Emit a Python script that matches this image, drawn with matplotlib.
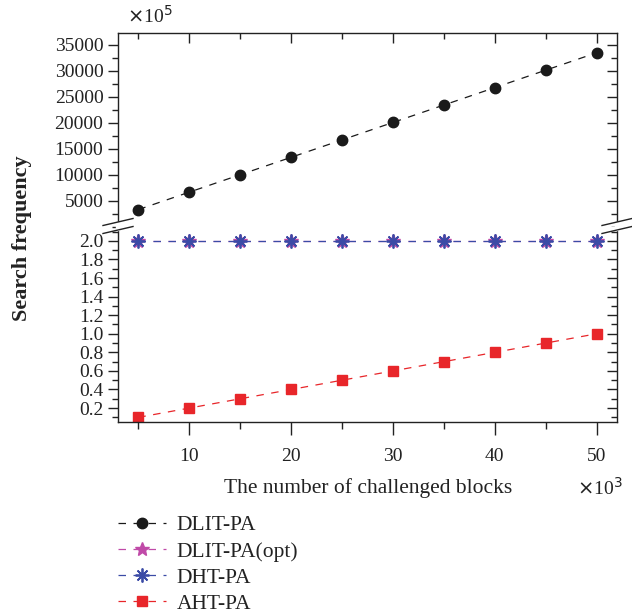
import matplotlib.pyplot as plt
import numpy as np
from matplotlib.ticker import MultipleLocator, FormatStrFormatter
from matplotlib.lines import Line2D

plt.rcParams['font.family'] = ['Liberation Serif', 'DejaVu Serif']

# data (x in units of 10^3 blocks)
blocks = [5, 10, 15, 20, 25, 30, 35, 40, 45, 50]
dlit = [3350, 6700, 10050, 13400, 16750, 20100, 23450, 26800, 30150, 33500]  # x10^5
dlit_opt = [2.0, 2.0, 2.0, 2.0, 2.0, 2.0, 2.0, 2.0, 2.0, 2.0]
dht = [2.0, 2.0, 2.0, 2.0, 2.0, 2.0, 2.0, 2.0, 2.0, 2.0]
aht = [0.1, 0.2, 0.3, 0.4, 0.5, 0.6, 0.7, 0.8, 0.9, 1.0]

c_dlit = '#1a1a1a'
c_opt = '#c04aa8'
c_dht = '#3b4ba6'
c_aht = '#e8262a'
dash = (6, 6)
tc = '#222222'

fig = plt.figure(figsize=(6.32, 6.14), dpi=100)
L, R = 118 / 632, 617 / 632
y_top, y_mid, y_bot = 1 - 33 / 614, 1 - 227 / 614, 1 - 422 / 614
ax1 = fig.add_axes([L, y_mid, R - L, y_top - y_mid])
ax2 = fig.add_axes([L, y_bot, R - L, y_mid - y_bot])

ax1.plot(blocks, dlit, color=c_dlit, ls='--', dashes=dash, lw=0.9,
         marker='o', ms=7.5, label='DLIT-PA')
ax2.plot(blocks, dlit_opt, color=c_opt, ls='--', dashes=dash, lw=0.9,
         marker='*', ms=10, label='DLIT-PA(opt)')
ax2.plot(blocks, dht, color=c_dht, ls='--', dashes=dash, lw=0.9,
         marker=(8, 2, 0), ms=10, mew=1.3, label='DHT-PA')
ax2.plot(blocks, aht, color=c_aht, ls='--', dashes=dash, lw=0.9,
         marker='s', ms=6.5, label='AHT-PA')

for ax in (ax1, ax2):
    ax.set_xlim(3.0, 52.0)
    ax.xaxis.set_major_locator(MultipleLocator(10))
    ax.xaxis.set_minor_locator(MultipleLocator(5))
    ax.tick_params(axis='both', which='major', length=7, width=1, colors=tc,
                   labelsize=14, labelcolor=tc)
    ax.tick_params(axis='both', which='minor', length=4, width=1, colors=tc)
    for s in ax.spines.values():
        s.set_color(tc)
        s.set_linewidth(1)

ax1.set_ylim(0, 37300)
ax1.yaxis.set_minor_locator(MultipleLocator(2500))
ax1.set_yticks([5000, 10000, 15000, 20000, 25000, 30000, 35000])
ax1.spines['bottom'].set_visible(False)
ax1.tick_params(axis='x', which='both', bottom=False, labelbottom=False,
                top=True, direction='in')
ax1.tick_params(axis='y', which='both', direction='out')

ax2.set_ylim(0.05, 2.15)
ax2.yaxis.set_minor_locator(MultipleLocator(0.1))
ax2.set_yticks(np.arange(0.2, 2.01, 0.2))
ax2.yaxis.set_major_formatter(FormatStrFormatter('%.1f'))
ax2.spines['top'].set_visible(False)
ax2.tick_params(axis='x', which='both', direction='out', top=False)
ax2.tick_params(axis='x', which='major', length=9, pad=10)
ax2.tick_params(axis='x', which='minor', length=5)
ax2.tick_params(axis='y', which='both', direction='out')

# right-side inward ticks
for ax in (ax1, ax2):
    sec = ax.secondary_yaxis('right')
    sec.set_yticks(ax.get_yticks())
    sec.yaxis.set_minor_locator(ax.yaxis.get_minor_locator())
    sec.tick_params(axis='y', which='major', direction='in', length=7, width=1,
                    labelright=False, colors=tc)
    sec.tick_params(axis='y', which='minor', direction='in', length=4, width=1,
                    colors=tc)
    sec.spines['right'].set_visible(False)

# break marks on both spines
hw, rise = 15, 7
for xc in (L, R):
    fig.add_artist(plt.Rectangle((xc - 2 / 632, 1 - 230 / 614), 4 / 632, 8 / 614,
                                 transform=fig.transFigure, color='white', zorder=5))
    for yc in (222, 230):
        yy = 1 - yc / 614
        fig.add_artist(Line2D([xc - hw / 632, xc + hw / 632],
                              [yy - rise / 2 / 614, yy + rise / 2 / 614],
                              transform=fig.transFigure, color=tc, lw=1, zorder=6))

fig.text(150 / 632, 1 - 16 / 614, r'$\times$10$^5$', fontsize=14, ha='center',
         va='center', color=tc)
fig.text(600 / 632, 1 - 488 / 614, r'$\times$10$^3$', fontsize=14, ha='center',
         va='center', color=tc)
fig.text(368 / 632, 1 - 488 / 614, 'The number of challenged blocks', fontsize=15.5,
         ha='center', va='center', color=tc)
fig.text(22 / 632, 1 - 238 / 614, 'Search frequency', fontsize=16, fontweight='bold',
         rotation=90, ha='center', va='center', color=tc)

h1, l1 = ax1.get_legend_handles_labels()
h2, l2 = ax2.get_legend_handles_labels()
fig.legend(h1 + h2, l1 + l2, loc='upper left', bbox_to_anchor=(99 / 632, 1 - 496 / 614),
           frameon=False, fontsize=15.5, handlelength=2.2, labelspacing=0.28,
           handletextpad=0.5, labelcolor=tc)

fig.savefig('out.png', dpi=100)
